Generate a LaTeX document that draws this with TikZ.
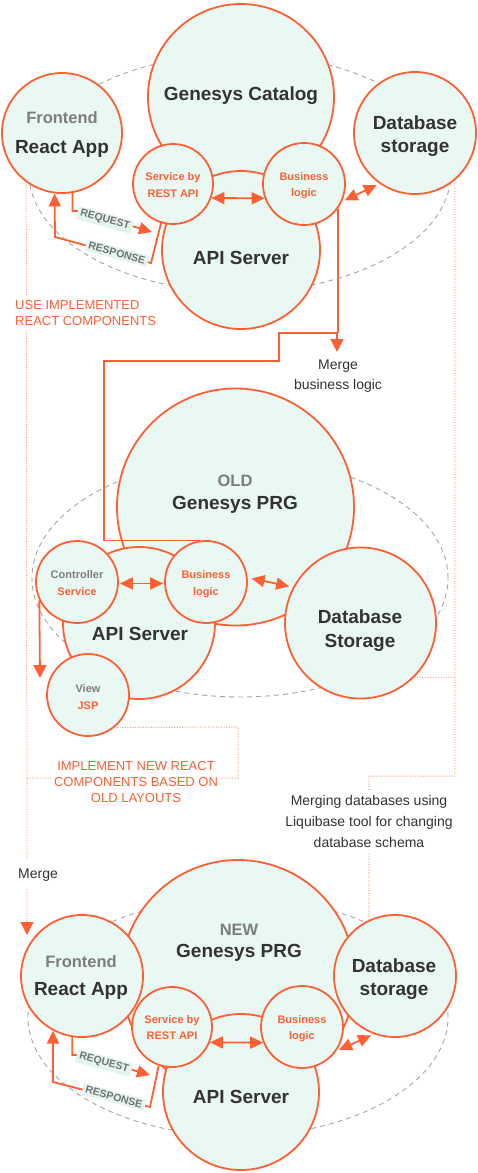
\documentclass[tikz,border=0pt]{standalone}
\usepackage{fontspec}
\setmainfont{Liberation Sans}
\usetikzlibrary{arrows.meta,calc}
\definecolor{org}{HTML}{FF6033}
\definecolor{mint}{HTML}{EAF8F3}
\definecolor{mintl}{HTML}{E3F5EE}
\definecolor{dark}{HTML}{333333}
\definecolor{grayt}{HTML}{7D7D7D}
\definecolor{lblt}{HTML}{6E7370}
\definecolor{dashc}{HTML}{A6A6A6}
\definecolor{salmon}{HTML}{FF9E80}
\begin{document}
\begin{tikzpicture}[x=1pt,y=-1pt,
  circ/.style={circle,draw=org,fill=mint,line width=1.8pt,inner sep=0pt},
  ell/.style={draw=dashc,line width=0.9pt,dash pattern=on 5pt off 4pt},
  conn/.style={draw=org,line width=1.8pt},
  dotl/.style={draw=salmon,line width=1pt,dash pattern=on 1pt off 1.6pt},
  big/.style={font=\fontsize{19}{22}\selectfont\bfseries,text=dark,inner sep=0pt},
  sub/.style={font=\fontsize{16.5}{19}\selectfont\bfseries,text=grayt,inner sep=0pt},
  small/.style={font=\fontsize{11}{13}\selectfont\bfseries,text=org,inner sep=0pt},
  smallg/.style={small,text=grayt},
  note/.style={font=\fontsize{14}{17}\selectfont,text=dark},
  capt/.style={font=\fontsize{13}{16}\selectfont,text=org},
  lbl/.style={font=\fontsize{10.5}{12}\selectfont\bfseries,text=lblt,fill=mintl,rotate=-15,inner xsep=3pt,inner ysep=2pt},
  Tri/.tip={Triangle[length=13pt,width=12pt]},
  BigTri/.tip={Triangle[length=13pt,width=13pt]},
]
\useasboundingbox (0,0) rectangle (477,1173);
\fill[white] (0,0) rectangle (477,1173);

% dashed ellipses
\draw[ell] (240,173) ellipse [x radius=211pt, y radius=119pt];
\draw[ell] (240,578) ellipse [x radius=208pt, y radius=119pt];
\draw[ell] (238,1017) ellipse [x radius=210pt, y radius=119pt];

% top circles
\node[circ,minimum size=186pt] (cat) at (241,97) {};
\node[circ,minimum size=158pt] (apiT) at (241,250) {};
\node[circ,minimum size=120pt] (feT) at (62,133) {};
\node[circ,minimum size=122pt] (dbT) at (415,133) {};
\node[circ,minimum size=80pt] (svcT) at (173,184) {};
\node[circ,minimum size=82pt] (bizT) at (304,184) {};

% old circles
\node[circ,minimum size=237pt] (prgO) at (235.5,507) {};
\node[circ,minimum size=152pt] (apiO) at (139,623) {};
\node[circ,minimum size=151pt] (dbO) at (360.5,623) {};
\node[circ,minimum size=82pt] (ctrl) at (77,582) {};
\node[circ,minimum size=82pt] (bizO) at (206,582) {};
\node[circ,minimum size=82pt] (view) at (88,695) {};

% new circles
\node[circ,minimum size=234pt] (prgN) at (238,977) {};
\node[circ,minimum size=156pt] (apiN) at (241,1092) {};
\node[circ,minimum size=122pt] (feN) at (82,976) {};
\node[circ,minimum size=122pt] (dbN) at (395,976) {};
\node[circ,minimum size=80pt] (svcN) at (172,1027) {};
\node[circ,minimum size=82pt] (bizN) at (302,1027) {};

% named free ends
\coordinate (d1a) at (27,778);
\coordinate (mtipL) at (27,935);
\coordinate (mj) at (337,333);
\coordinate (mtip) at (337,352);
\coordinate (vtip) at (40,678);
\coordinate (rqT) at (152,232);
\coordinate (rqN) at (150,1075);

% dotted salmon lines
\draw[dotl,-{Triangle[length=13pt,width=13pt,color=org]}] (feT.-126) -- (mtipL);
\draw[dotl] (view.-51) -- (238,727) -- (238,778) -- (d1a);
\draw[dotl] (dbT.-50) |- (369,776) -- (dbN.115);
\draw[dotl] (dbO.-45) -- (dbO.-45 -| dbT.-50);

% merge business logic
\draw[conn] (bizT.-36) -- (bizT.-36 |- mj);
\draw[conn,-BigTri] (bizO.98) -| (104,361) -| (279,333) -| (mtip);

% double arrows
\draw[conn,Tri-Tri] (svcT.-20) -- (bizT.200);
\draw[conn,Tri-Tri,shorten <=3pt,shorten >=3pt] (bizT.-25) -- (dbT.-125);
\draw[conn,Tri-Tri,shorten <=1pt,shorten >=1pt] (ctrl.-2) -- (bizO.182);
\draw[conn,Tri-Tri,shorten <=4pt,shorten >=4pt] (bizO.6) -- (dbO.152);
\draw[conn,Tri-Tri] (svcN.-22) -- (bizN.202);
\draw[conn,Tri-Tri,shorten <=3pt,shorten >=3pt] (bizN.-35) -- (dbN.-110);
\draw[conn,-BigTri] (ctrl.-154) -- (vtip);

% request / response
\draw[conn,-Tri] (feT.-80) |- (82,211) -- (rqT);
\draw[conn,-Tri] (svcT.-107) -- (151,263) -- (55,237) -- (feT.-97);
\draw[conn,-Tri] (feN.-99) |- (81,1055) -- (rqN);
\draw[conn,-Tri] (svcN.-109) -- (150,1107) -- (53,1082) -- (feN.-118);
\node[lbl] at (105,220) {REQUEST};
\node[lbl] at (117,253) {RESPONSE};
\node[lbl] at (104,1063) {REQUEST};
\node[lbl] at (114,1097) {RESPONSE};

% top texts
\node[sub,anchor=base] at (62,123) {Frontend};
\node[big,anchor=base] at (62,153) {React App};
\node[big,anchor=base] at (241,100) {Genesys Catalog};
\node[small,anchor=base] at (173,180) {Service by};
\node[small,anchor=base] at (173,197) {REST API};
\node[small,anchor=base] at (304,180) {Business};
\node[small,anchor=base] at (304,196) {logic};
\node[big,anchor=base] at (415,129) {Database};
\node[big,anchor=base] at (415,152) {storage};
\node[big,anchor=base] at (241,264) {API Server};
\node[capt,anchor=base west,fill=white,inner xsep=1pt,inner ysep=4pt] at (14,309) {USE IMPLEMENTED};
\node[capt,anchor=base west,fill=white,inner xsep=1pt,inner ysep=4pt] at (14,325) {REACT COMPONENTS};
\node[note,anchor=base] at (338,369) {Merge};
\node[note,anchor=base] at (338,389) {business logic};

% old texts
\node[sub,anchor=base] at (235,486) {OLD};
\node[big,anchor=base] at (235,509) {Genesys PRG};
\node[smallg,anchor=base] at (77,578) {Controller};
\node[small,anchor=base] at (77,595) {Service};
\node[small,anchor=base] at (206,578) {Business};
\node[small,anchor=base] at (206,595) {logic};
\node[big,anchor=base] at (140,640) {API Server};
\node[big,anchor=base] at (360,623) {Database};
\node[big,anchor=base] at (360,647) {Storage};
\node[smallg,anchor=base] at (88,692) {View};
\node[small,anchor=base] at (88,709) {JSP};
\node[capt,anchor=base,fill=white,inner xsep=3pt,inner ysep=4pt] at (136,770) {IMPLEMENT NEW REACT};
\node[capt,anchor=base,fill=white,inner xsep=3pt,inner ysep=4pt] at (136,786) {COMPONENTS BASED ON};
\node[capt,anchor=base,fill=white,inner xsep=3pt,inner ysep=4pt] at (136,802) {OLD LAYOUTS};
\node[note,anchor=base,fill=white,inner xsep=2pt,inner ysep=5pt] at (369,805) {Merging databases using};
\node[note,anchor=base,fill=white,inner xsep=2pt,inner ysep=5pt] at (369,826) {Liquibase tool for changing};
\node[note,anchor=base,fill=white,inner xsep=2pt,inner ysep=5pt] at (369,847) {database schema};
\node[note,anchor=base west,fill=white,inner xsep=1pt,inner ysep=8pt] at (17,878) {Merge};

% new texts
\node[sub,anchor=base] at (81,967) {Frontend};
\node[big,anchor=base] at (81,995) {React App};
\node[sub,anchor=base] at (239,935) {NEW};
\node[big,anchor=base] at (239,957) {Genesys PRG};
\node[small,anchor=base] at (172,1023) {Service by};
\node[small,anchor=base] at (172,1039) {REST API};
\node[small,anchor=base] at (302,1023) {Business};
\node[small,anchor=base] at (302,1039) {logic};
\node[big,anchor=base] at (394,972) {Database};
\node[big,anchor=base] at (394,995) {storage};
\node[big,anchor=base] at (241,1103) {API Server};
\end{tikzpicture}
\end{document}
